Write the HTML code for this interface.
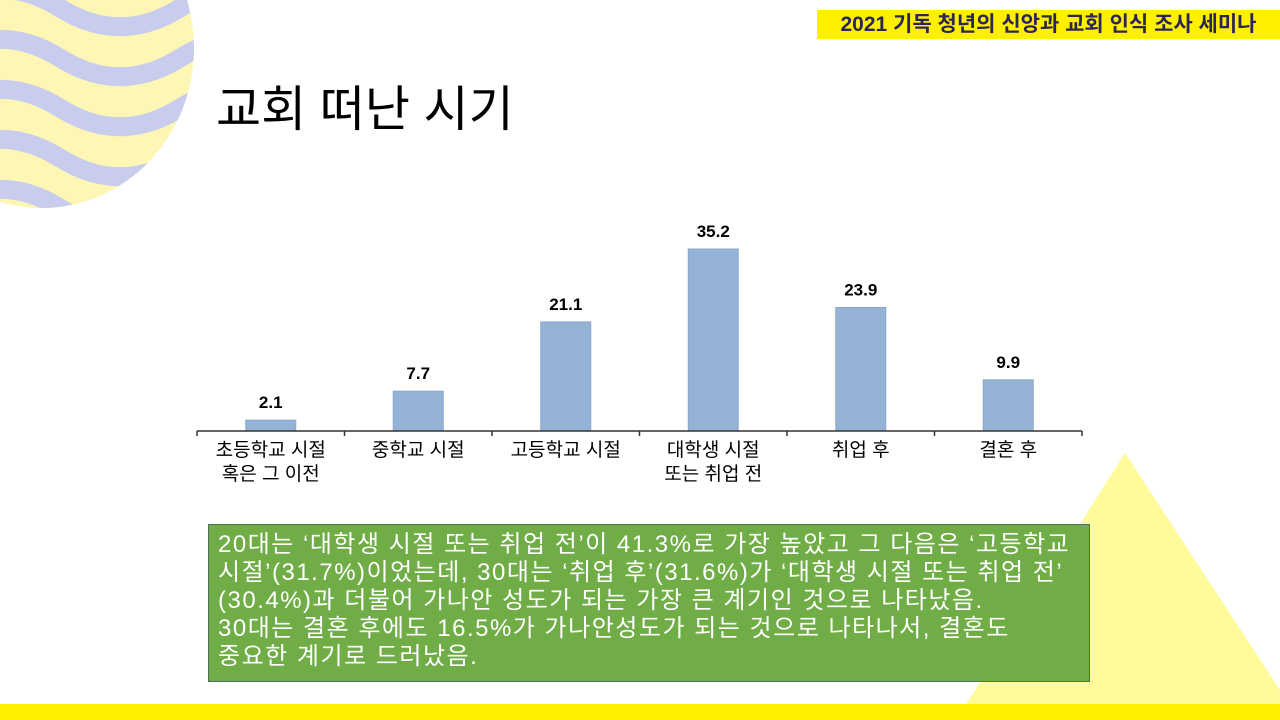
<!DOCTYPE html>
<html><head><meta charset="utf-8">
<style>
html,body{margin:0;padding:0;}
body{width:1280px;height:720px;position:relative;overflow:hidden;background:#fff;font-family:"Liberation Sans","Noto Sans CJK KR",sans-serif;}
.abs{position:absolute;}
.ln{white-space:nowrap;}
</style></head>
<body>
<svg class="abs" style="left:0;top:0" width="1280" height="720">
  <defs>
    <clipPath id="cc"><ellipse cx="42" cy="48" rx="152" ry="160"/></clipPath>
  </defs>
  <g clip-path="url(#cc)">
    <rect x="-120" y="-120" width="330" height="340" fill="#fef6b4"/>
    <g id="waves" fill="none" stroke="#c8cdee" stroke-width="19"></g>
  </g>
  <polygon points="1125,453 965,706 1280,706 1280,690" fill="#fffa9a"/>
  <rect x="0" y="704" width="1280" height="16" fill="#fff000"/>
  <rect x="817" y="10" width="463" height="29" fill="#fff000"/>
</svg>
<div class="abs" style="left:817px;top:10px;width:463px;height:29px;line-height:29px;text-align:center;font-size:21px;font-weight:bold;color:#2b2655;white-space:nowrap;">2021 기독 청년의 신앙과 교회 인식 조사 세미나</div>
<div class="abs" style="left:216px;top:70px;font-size:49px;color:#000;white-space:nowrap;">교회 떠난 시기</div>

<svg class="abs" id="chart" style="left:0;top:0" width="1280" height="520"></svg>

<div class="abs" style="left:208px;top:524px;width:882px;height:158px;background:#70ad47;border:1px solid #4e6f5a;color:#fff;font-size:24px;letter-spacing:1.5px;line-height:28px;padding:6px 0 0 9px;box-sizing:border-box;overflow:hidden;">
<div class="ln">20대는 ‘대학생 시절 또는 취업 전’이 41.3%로 가장 높았고 그 다음은 ‘고등학교</div>
<div class="ln">시절’(31.7%)이었는데, 30대는 ‘취업 후’(31.6%)가 ‘대학생 시절 또는 취업 전’</div>
<div class="ln">(30.4%)과 더불어 가나안 성도가 되는 가장 큰 계기인 것으로 나타났음.</div>
<div class="ln">30대는 결혼 후에도 16.5%가 가나안성도가 되는 것으로 나타나서, 결혼도</div>
<div class="ln">중요한 계기로 드러났음.</div>
</div>

<script>
const categories = [["초등학교 시절","혹은 그 이전"],["중학교 시절"],["고등학교 시절"],["대학생 시절","또는 취업 전"],["취업 후"],["결혼 후"]];
const values = [2.1, 7.7, 21.1, 35.2, 23.9, 9.9];
const valueLabels = ["2.1","7.7","21.1","35.2","23.9","9.9"];

const NS="http://www.w3.org/2000/svg";
const wg=document.getElementById('waves');
for(let i=-3;i<6;i++){
  const y0=i*50+8;
  const p=document.createElementNS(NS,'path');
  p.setAttribute('d',`M-60 ${y0} C-20 ${y0-25},20 ${y0-25},60 ${y0} S140 ${y0+25},180 ${y0} S260 ${y0-25},300 ${y0}`);
  
  
  wg.appendChild(p);
}
const svg=document.getElementById('chart');
const x0=197,x1=1082,base=431,pxPerUnit=5.17;
const n=categories.length, step=(x1-x0)/n, bw=50;
const xc=i=>x0+step*(i+0.5);
const y=v=>base-v*pxPerUnit;
function el(t,a){const e=document.createElementNS(NS,t);for(const k in a)e.setAttribute(k,a[k]);svg.appendChild(e);return e;}
values.forEach((v,i)=>{
  const r=el('rect',{x:xc(i)-bw/2,y:y(v),width:bw,height:base-y(v),fill:'#95b3d7',stroke:'#8aa8cc','stroke-width':1});
  
  
  const t=el('text',{x:xc(i),y:y(v)-12,'text-anchor':'middle','font-size':17,'font-weight':'bold',fill:'#000'});
  t.textContent=valueLabels[i];
  
  
  categories[i].forEach((ln,j)=>{
    const c=el('text',{x:xc(i),y:base+25+j*24,'text-anchor':'middle','font-size':19,fill:'#000'});
    c.textContent=ln;
    
    
  });
});
const ax=el('line',{x1:x0,y1:base,x2:x1,y2:base,stroke:'#333','stroke-width':1.5});


for(let i=0;i<=n;i++){
  const tk=el('line',{x1:x0+step*i,y1:base,x2:x0+step*i,y2:base+5,stroke:'#333','stroke-width':1.5});
  
  
}
</script>
</body></html>
